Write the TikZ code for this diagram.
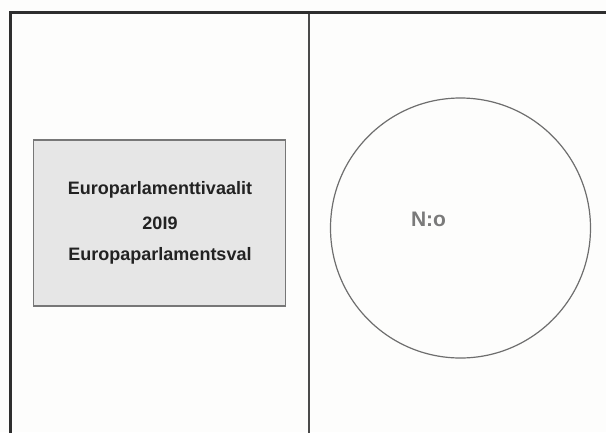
\documentclass[tikz,border=0pt]{standalone}
\usepackage{fontspec}
\setmainfont{Liberation Sans}
\definecolor{bgc}{HTML}{FDFDFC}
\definecolor{framec}{HTML}{2E2E2E}
\definecolor{divc}{HTML}{4A4A4A}
\definecolor{boxfill}{HTML}{E6E6E6}
\definecolor{boxdraw}{HTML}{777777}
\definecolor{circdraw}{HTML}{6E6E6E}
\definecolor{notext}{HTML}{7A7A7A}
\definecolor{boxtext}{HTML}{222222}
\tikzset{
  framestyle/.style={draw=framec, line width=3pt},
  dividerstyle/.style={draw=divc, line width=1.5pt},
  boxstyle/.style={draw=boxdraw, fill=boxfill, line width=1.2pt, minimum width=252pt, minimum height=166pt, inner sep=0pt},
  circstyle/.style={draw=circdraw, line width=1.2pt, circle, minimum size=260pt, inner sep=0pt},
  lbl/.style={font=\fontsize{18}{22}\selectfont\bfseries, text=boxtext, inner sep=0pt},
}
\begin{document}
\begin{tikzpicture}[x=1pt,y=-1pt]
\useasboundingbox (0,0) rectangle (606,432);
\fill[bgc] (0,0) rectangle (606,432);
\node[boxstyle] (box) at (159.5,223) {};
\node[circstyle] (circ) at (460.5,228) {};
\node[lbl] (t1) at (160,190) {Europarlamenttivaalit};
\node[lbl] (t2) at (160,223) {20I9};
\node[lbl] (t3) at (160,256) {Europaparlamentsval};
\node[lbl, font=\fontsize{21}{25}\selectfont\bfseries, text=notext] (no) at (428.5,219) {N:o};
\coordinate (tl) at (10,12);
\coordinate (tr) at (607,12);
\coordinate (bl) at (10,433);
\coordinate (dt) at (309,12);
\coordinate (db) at (309,433);
\draw[dividerstyle] (dt) -- (db);
\draw[framestyle] (tr) -- (tl) -- (bl);
\end{tikzpicture}
\end{document}
